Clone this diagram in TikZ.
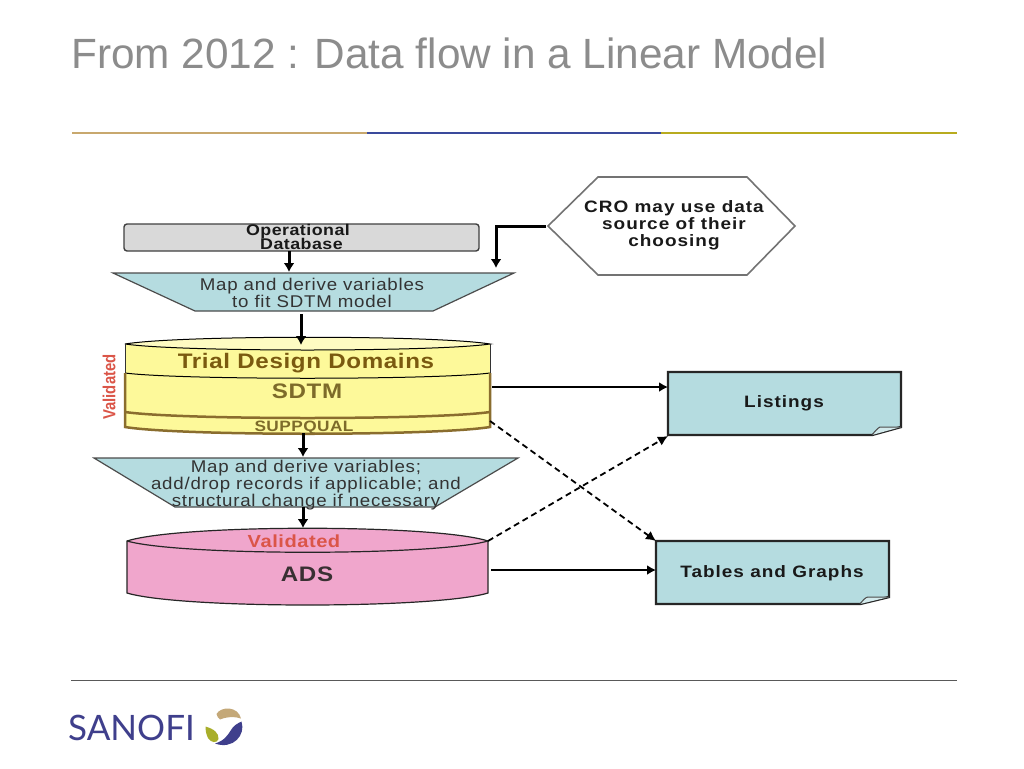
\documentclass[tikz,border=0pt]{standalone}
\usepackage{fontspec}
\setmainfont{Liberation Sans}
\newfontfamily\spaced[LetterSpace=4.5,FakeStretch=1.1]{Liberation Sans}
\newfontfamily\spacedb[LetterSpace=6,FakeStretch=1.15]{Liberation Sans Bold}
\newfontfamily\headb[LetterSpace=3,FakeStretch=1.15]{Liberation Sans Bold}
\newfontfamily\narrowb[FakeStretch=0.85]{Liberation Sans Bold}
\newfontfamily\logofont{Lato}
\usetikzlibrary{arrows.meta}
\definecolor{titlegray}{HTML}{8C8C8C}
\definecolor{ruletan}{HTML}{C8A86E}
\definecolor{ruleblue}{HTML}{3A4A9C}
\definecolor{ruleolive}{HTML}{B8AB1F}
\definecolor{teal}{HTML}{B5DCE0}
\definecolor{dbgray}{HTML}{D9D9D9}
\definecolor{cylyellow}{HTML}{FDF99A}
\definecolor{cylbrown}{HTML}{8A6D2E}
\definecolor{trialbrown}{HTML}{7A5A10}
\definecolor{sdtmbrown}{HTML}{7D6B2A}
\definecolor{cylpink}{HTML}{F0A6CC}
\definecolor{redlabel}{HTML}{DB5548}
\definecolor{sanofiblue}{HTML}{3F3F8C}
\definecolor{sanofitan}{HTML}{C4A878}
\definecolor{sanofigreen}{HTML}{A8AE2A}
\tikzset{
  area/.style={inner sep=0pt,outer sep=0pt,align=center},
  flowbig/.style={line width=3pt,-{Latex[length=9pt,width=11pt]},black},
  flowmid/.style={line width=2pt,-{Latex[length=9pt,width=10pt]},black},
  flowdash/.style={line width=1.8pt,dash pattern=on 6pt off 4pt,-{Latex[length=10pt,width=10pt]},black},
  maptext/.style={area,font=\spaced\fontsize{17}{17}\selectfont,text=black!80},
  boldtext/.style={area,font=\spacedb\fontsize{16.5}{17}\selectfont,text=black!90},
  docbox/.style={fill=teal,draw=black!85,line width=2.4pt,line join=miter},
  trap/.style={fill=teal,draw=black!70,line width=1.2pt},
}
\begin{document}
\begin{tikzpicture}[x=1pt,y=-1pt]
\useasboundingbox (0,0) rectangle (1024,768);
\fill[white] (0,0) rectangle (1024,768);

% title and rules
\node[anchor=west,inner sep=0pt,text=titlegray,font=\fontsize{42.3}{46}\selectfont] (title) at (71,53) {From 2012 : Data flow in a Linear Model};
\draw[ruletan,line width=2pt] (72,133) -- (367,133);
\draw[ruleblue,line width=2pt] (367,133) -- (661,133);
\draw[ruleolive,line width=2pt] (661,133) -- (957,133);
\draw[black!65,line width=1pt] (71,680) -- (957,680);

% operational database
\draw[fill=dbgray,draw=black!75,line width=1.4pt,rounded corners=3pt] (124,224) rectangle (479,251);
\node[area,minimum width=355pt,minimum height=27pt] (db) at (301.5,237.5) {};
\node[area,text=black!90,font=\headb\fontsize{15.5}{14.5}\selectfont] (dbtext) at (298,237) {Operational\\\hspace*{7pt}Database};

% first trapezoid
\draw[trap] (113,273) -- (514,273) -- (433,311) -- (195,311) -- cycle;
\node[area,minimum width=401pt,minimum height=38pt] (mapa) at (313.5,292) {};
\node[maptext] (mapatext) at (312,292.5) {Map and derive variables\\to fit SDTM model};

% SDTM cylinder
\draw[fill=cylyellow,draw=none] (125,344) .. controls (180,335) and (435,335) .. (490,344) -- (490,427) .. controls (435,437) and (180,437) .. (125,427) -- cycle;
\fill[cylyellow!60!white] (125,344) .. controls (180,335) and (435,335) .. (490,344) .. controls (435,352) and (180,352) .. (125,344) -- cycle;
\draw[black,line width=1pt] (125,344) .. controls (180,335) and (435,335) .. (490,344) .. controls (435,352) and (180,352) .. (125,344);
\draw[black,line width=1pt] (125,373) .. controls (180,380) and (435,380) .. (490,373);
\draw[black!80,line width=1pt] (125,344) -- (125,373) (490,344) -- (490,373);
\draw[cylbrown,line width=2.5pt] (125,373) -- (125,427) .. controls (180,436) and (435,436) .. (490,427) -- (490,373);
\draw[cylbrown,line width=2.5pt] (125,412) .. controls (180,420) and (435,420) .. (490,412);
\node[area,minimum width=365pt,minimum height=95pt] (sdtm) at (307.5,385.5) {};
\node[area,text=trialbrown,font=\headb\fontsize{21}{22}\selectfont] (trial) at (306,363) {Trial Design Domains};
\node[area,text=sdtmbrown,font=\headb\fontsize{21}{22}\selectfont] (sdtmtext) at (307,391) {SDTM};
\begin{scope}
\clip (125,400) rectangle (490,432);
\node[area,text=sdtmbrown,font=\headb\fontsize{15}{16}\selectfont] (supp) at (304,428) {SUPPQUAL};
\end{scope}
\node[area,rotate=90,text=redlabel,font=\narrowb\fontsize{17.5}{16}\selectfont] (valA) at (109,387) {Validated};

% second trapezoid
\draw[trap] (94,458) -- (518,458) -- (435,507) -- (175,507) -- cycle;
\node[area,minimum width=424pt,minimum height=49pt] (mapb) at (306,482.5) {};
\node[maptext] (mapbtext) at (306,485.5) {Map and derive variables;\\add/drop records if applicable; and\\structural change if necessary};

% ADS cylinder
\draw[fill=cylpink,draw=black!85,line width=1.2pt] (127,541) .. controls (180,524) and (435,524) .. (488,541) -- (488,593) .. controls (435,609) and (180,609) .. (127,593) -- cycle;
\draw[black!85,line width=1.2pt] (127,541) .. controls (180,556) and (435,556) .. (488,541);
\node[area,minimum width=361pt,minimum height=77pt] (ads) at (307.5,566.5) {};
\node[area,text=redlabel,font=\headb\fontsize{17.5}{17}\selectfont] (valB) at (294,541) {Validated};
\node[area,text=black!90!magenta,font=\headb\fontsize{21}{22}\selectfont] (adstext) at (307,574) {ADS};

% hexagon
\draw[fill=white,draw=black!55,line width=1.6pt] (548,226) -- (598,177) -- (747,177) -- (795,226) -- (747,275) -- (598,275) -- cycle;
\node[area,minimum width=247pt,minimum height=98pt] (cro) at (671.5,226) {};
\node[boldtext] (crotext) at (674,225) {CRO may use data\\source of their\\choosing};

% documents
\draw[docbox] (668,372) -- (901,372) -- (901,427) -- (872,435) -- (668,435) -- cycle;
\draw[black!70,fill=teal!60!white,line width=1pt] (872,435) .. controls (875,431) and (878,428) .. (880,427) -- (901,427);
\node[area,minimum width=233pt,minimum height=63pt] (listings) at (784.5,403.5) {};
\node[boldtext] (listingstext) at (784,403) {Listings};

\draw[docbox] (656,541) -- (889,541) -- (889,597) -- (860,604) -- (656,604) -- cycle;
\draw[black!70,fill=teal!60!white,line width=1pt] (860,604) .. controls (863,600) and (866,597) .. (868,597) -- (889,597);
\node[area,minimum width=233pt,minimum height=63pt] (tables) at (772.5,572.5) {};
\node[boldtext] (tablestext) at (772,573) {Tables and Graphs};

% connectors
\draw[flowbig] ([xshift=-12.5pt]db.south) -- ([xshift=-24.5pt,yshift=1pt]mapa.north);
\draw[flowbig] ([xshift=-12.5pt,yshift=-3pt]mapa.south) -- ([xshift=-6.5pt,yshift=-7pt]sdtm.north);
\draw[flowbig] ([xshift=-4.5pt]sdtm.south) -- ([xshift=-3pt,yshift=1pt]mapb.north);
\draw[flowbig] ([xshift=-3pt]mapb.south) -- ([xshift=-4.5pt]ads.north);
\draw[flowbig,line join=miter] ([xshift=-2pt]cro.west) -- ++(-50,0) -- ([xshift=182.5pt,yshift=5pt]mapa.north);
\draw[flowmid] ([xshift=2pt,yshift=-1.5pt]sdtm.east) -- ([yshift=16.5pt]listings.west);
\draw[flowmid] ([xshift=3pt,yshift=-3.5pt]ads.east) -- ([yshift=2.5pt]tables.west);
\draw[flowdash] ([yshift=-35.5pt]sdtm.east) -- (tables.north west);
\draw[flowdash] ([yshift=25.5pt]ads.east) -- ([yshift=-1pt]listings.south west);

% logo
\node[anchor=west,inner sep=0pt,text=sanofiblue,font=\logofont\fontsize{35}{38}\selectfont] (sanofi) at (68,727.5) {SANOFI};
\fill[sanofitan] (216.5,714) .. controls (221,706) and (238,706) .. (241,718.5) .. controls (237,717) and (228,716) .. (220,719.5) .. controls (218,718) and (217,716) .. cycle;
\fill[sanofiblue] (241.5,721.5) .. controls (246,735) and (233,750) .. (215,743.5) .. controls (224,741) and (228,735) .. (231,730) .. controls (233,726) and (238,723) .. (241.5,721.5) -- cycle;
\fill[sanofigreen] (205.5,726.5) .. controls (214,729) and (219,733) .. (218.5,739) .. controls (217,743.5) and (211,743) .. (208,738) .. controls (206,734) and (205.5,730) .. cycle;
\end{tikzpicture}
\end{document}
